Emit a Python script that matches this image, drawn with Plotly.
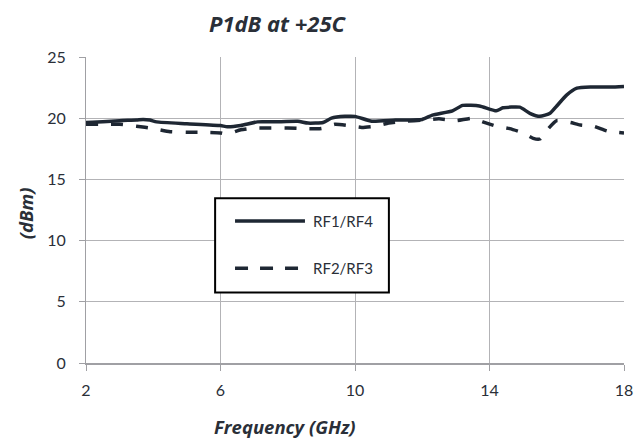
import plotly.graph_objects as go

# P1dB vs frequency at +25C, two RF path pairs
freq_rf14 = [2.0, 2.5, 3.0, 3.5, 3.7, 3.9, 4.1, 5.0, 6.0, 6.2, 6.6, 7.1, 7.6, 8.3, 8.6,
             9.05, 9.3, 9.7, 10.0, 10.5, 11.2, 12.0, 12.3, 12.9, 13.2, 13.7, 14.2, 14.4,
             14.9, 15.2, 15.5, 15.8, 16.0, 16.3, 16.6, 17.0, 17.6, 18.0]
p1db_rf14 = [19.65, 19.7, 19.8, 19.85, 19.9, 19.85, 19.7, 19.55, 19.4, 19.3, 19.4, 19.7,
             19.7, 19.75, 19.6, 19.65, 20.0, 20.15, 20.15, 19.75, 19.85, 19.9, 20.25,
             20.6, 21.05, 21.0, 20.6, 20.85, 20.9, 20.4, 20.15, 20.4, 21.0, 21.9, 22.45,
             22.55, 22.55, 22.6]

freq_rf23 = [2.0, 2.5, 3.0, 3.5, 4.0, 4.5, 5.0, 5.5, 6.0, 6.2, 6.6, 7.0, 7.5, 8.0, 8.5,
             9.0, 9.4, 9.8, 10.2, 10.6, 11.0, 11.5, 12.0, 12.5, 13.0, 13.5, 13.8, 14.2,
             14.6, 15.0, 15.3, 15.5, 15.7, 16.0, 16.4, 16.7, 17.1, 17.5, 18.0]
p1db_rf23 = [19.5, 19.5, 19.5, 19.35, 19.15, 18.9, 18.85, 18.85, 18.8, 18.7, 19.05, 19.2,
             19.2, 19.2, 19.15, 19.15, 19.5, 19.4, 19.25, 19.35, 19.6, 19.75, 19.85,
             19.95, 19.8, 20.0, 19.7, 19.35, 19.15, 18.8, 18.35, 18.3, 19.0, 19.8, 19.65,
             19.45, 19.35, 18.95, 18.8]

series_names = ["RF1/RF4", "RF2/RF3"]
x_ticks = [2, 6, 10, 14, 18]
y_ticks = [0, 5, 10, 15, 20, 25]

line_color = "#1e2733"
text_color = "#2a2f38"
grid_color = "#b3b3b6"
axis_color = "#a0a0a4"
dash_pattern = "12px,13px"

fig = go.Figure()
fig.add_trace(go.Scatter(x=freq_rf14, y=p1db_rf14, mode="lines", name=series_names[0],
                         line=dict(color=line_color, width=3.5, shape="spline", smoothing=0.5),
                         showlegend=False))
fig.add_trace(go.Scatter(x=freq_rf23, y=p1db_rf23, mode="lines", name=series_names[1],
                         line=dict(color=line_color, width=3.5, dash=dash_pattern,
                                   shape="spline", smoothing=0.5),
                         showlegend=False))

# Boxed legend inside the plot area
box = dict(x0=0.24, x1=0.563, y0=0.23, y1=0.538)
fig.add_shape(type="rect", xref="paper", yref="paper", **box,
              line=dict(color="black", width=2), fillcolor="white", layer="above")
rows = [0.464, 0.310]
dashes = ["solid", "13px,12px"]
for name, yrow, dsh in zip(series_names, rows, dashes):
    fig.add_shape(type="line", xref="paper", yref="paper", x0=0.277, x1=0.407,
                  y0=yrow, y1=yrow, line=dict(color=line_color, width=3.5, dash=dsh),
                  layer="above")
    fig.add_annotation(text=name, xref="paper", yref="paper", x=0.418, y=yrow,
                       xanchor="left", yanchor="middle", showarrow=False,
                       font=dict(family="Lato", size=15, color=text_color))

# Titles
fig.add_annotation(text="<b><i>P1dB at +25C</i></b>", xref="paper", yref="paper",
                   x=0.357, y=1.111, xanchor="center", yanchor="middle", showarrow=False,
                   font=dict(family="Open Sans", size=22, color=text_color))
fig.add_annotation(text="<b><i>Frequency (GHz)</i></b>", xref="paper", yref="paper",
                   x=0.37, y=-0.206, xanchor="center", yanchor="middle", showarrow=False,
                   font=dict(family="Open Sans", size=18.5, color=text_color))
fig.add_annotation(text="<b><i>(dBm)</i></b>", xref="paper", yref="paper",
                   x=-0.113, y=0.49, xanchor="center", yanchor="middle", showarrow=False,
                   textangle=-90, font=dict(family="Open Sans", size=18.5, color=text_color))

fig.update_xaxes(range=[2, 18], tickvals=x_ticks, ticktext=[str(v) for v in x_ticks],
                 showgrid=True, gridcolor=grid_color, gridwidth=1,
                 showline=True, linecolor=axis_color, linewidth=1.5,
                 ticks="outside", ticklen=6, tickcolor=axis_color,
                 ticklabelstandoff=6, automargin=False,
                 tickfont=dict(family="Lato", size=16, color=text_color),
                 zeroline=False, fixedrange=True)
fig.update_yaxes(range=[0, 25], tickvals=y_ticks, ticktext=[str(v) for v in y_ticks],
                 showgrid=True, gridcolor=grid_color, gridwidth=1,
                 showline=True, linecolor=axis_color, linewidth=1,
                 ticks="outside", ticklen=6, tickcolor=axis_color,
                 ticklabelstandoff=10, automargin=False,
                 tickfont=dict(family="Lato", size=16, color=text_color),
                 zeroline=False, fixedrange=True)

fig.update_layout(width=635, height=441, margin=dict(l=86, r=11, t=57, b=78, autoexpand=False),
                  paper_bgcolor="white", plot_bgcolor="white", showlegend=False)

fig.write_html("out.html")
